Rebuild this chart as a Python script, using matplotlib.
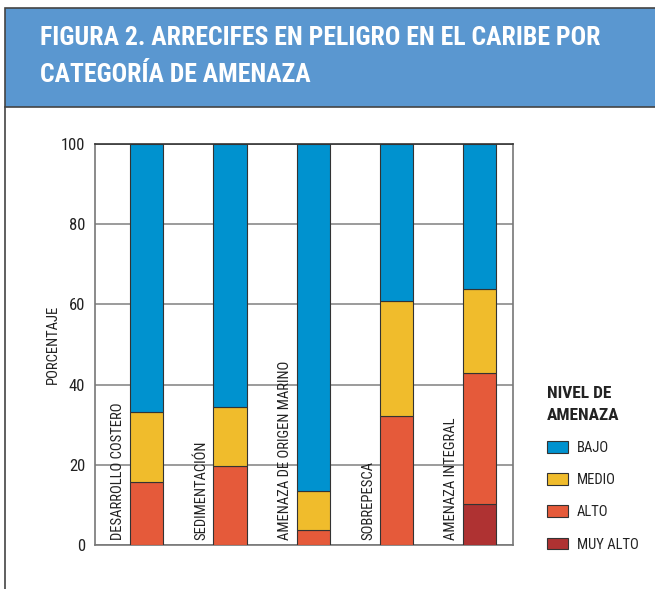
import matplotlib
matplotlib.use("Agg")
import matplotlib.pyplot as plt
from matplotlib.patches import Rectangle, Patch
import numpy as np

BODY = "Roboto Condensed"
TITLE = "Roboto Condensed"

categories = ["DESARROLLO COSTERO", "SEDIMENTACIÓN", "AMENAZA DE ORIGEN MARINO",
              "SOBREPESCA", "AMENAZA INTEGRAL"]
muy_alto = [0, 0, 0, 0, 10.2]
alto = [15.8, 19.8, 3.7, 32.1, 32.7]
medio = [17.4, 14.5, 9.7, 28.7, 20.9]
bajo = [66.8, 65.7, 86.6, 39.2, 36.2]
series_names = ["MUY ALTO", "ALTO", "MEDIO", "BAJO"]
colors = ["#AF3232", "#E55A3A", "#F0BC2C", "#0092CF"]
yticks = [0, 20, 40, 60, 80, 100]

W, H = 655, 589
fig = plt.figure(figsize=(W / 100, H / 100), dpi=100)

# header band and frame
fig.patches.append(Rectangle((5 / W, 1 - 107 / H), 1, 99 / H, transform=fig.transFigure,
                             facecolor="#5A97D0", edgecolor="#444444", linewidth=1.2, zorder=0))
fig.lines.append(plt.Line2D([5 / W, 5 / W], [0, 1 - 107 / H], transform=fig.transFigure,
                            color="#444444", linewidth=1.2))
fig.text(40 / W, 1 - 38 / H, "FIGURA 2. ARRECIFES EN PELIGRO EN EL CARIBE POR",
         family=TITLE, weight="bold", color="white", fontsize=18.5, va="center", ha="left")
fig.text(40 / W, 1 - 75 / H, "CATEGORÍA DE AMENAZA",
         family=TITLE, weight="bold", color="white", fontsize=18.5, va="center", ha="left")

ax = fig.add_axes([95 / W, 44 / H, 418 / W, 401 / H])
x = np.arange(len(categories))
bottom = np.zeros(len(categories))
handles = []
for name, vals, c in zip(series_names, [muy_alto, alto, medio, bajo], colors):
    vals = np.array(vals)
    mask = vals > 0
    ax.bar(x[mask], vals[mask], bottom=bottom[mask], width=0.4, color=c,
           edgecolor="#333333", linewidth=0.8, zorder=3)
    bottom += vals
    handles.append(Patch(facecolor=c, edgecolor="#333333", linewidth=0.8, label=name))

for xi, cat in zip(x, categories):
    ax.text(xi - 0.34, 1.3, cat, rotation=90, ha="center", va="bottom",
            family=BODY, fontsize=10.5, color="#222222", zorder=4)

ax.set_xlim(-0.62, 4.40)
ax.set_ylim(0, 100)
ax.set_yticks(yticks)
ax.set_yticklabels([str(t) for t in yticks], family=BODY, fontsize=12, color="#222222")
ax.set_xticks([])
ax.tick_params(axis="y", length=0, pad=7)
ax.grid(axis="y", color="#8a8a8a", linewidth=1.2, zorder=0)
for s in ax.spines.values():
    s.set_color("#777777")
    s.set_linewidth(1.2)
ax.spines["top"].set_color("#333333")
ax.set_ylabel("PORCENTAJE", family=BODY, fontsize=10.5, color="#222222", labelpad=1)

leg = ax.legend(handles[::-1], [h.get_label() for h in handles[::-1]],
                title="NIVEL DE\nAMENAZA", loc="upper left",
                bbox_to_anchor=(547 / W, 1 - 386 / H), bbox_transform=fig.transFigure,
                frameon=False, prop={"family": BODY, "size": 10.5},
                title_fontproperties={"family": BODY, "weight": "bold", "size": 12.5},
                alignment="left", handlelength=1.45, handleheight=0.85,
                handletextpad=0.6, labelspacing=1.25, borderaxespad=0, borderpad=0)
for t in leg.get_texts():
    t.set_color("#222222")
leg.get_title().set_color("#222222")
leg.get_title().set_linespacing(1.55)

fig.savefig("out.png", dpi=100)
